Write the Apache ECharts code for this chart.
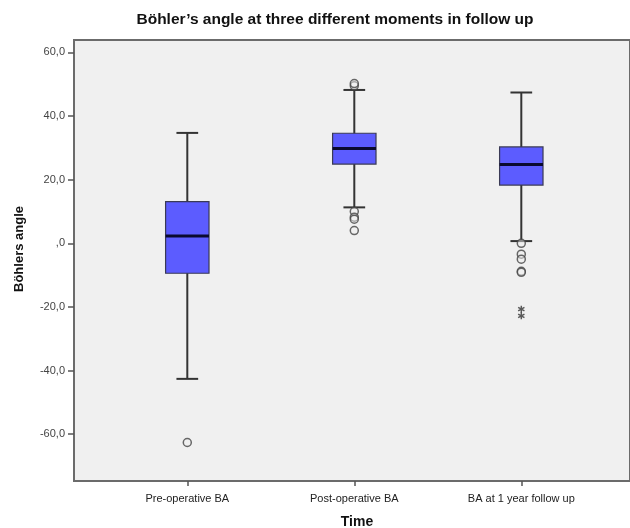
<!DOCTYPE html>
<html>
<head>
<meta charset="utf-8">
<script src="https://cdn.jsdelivr.net/npm/echarts@6/dist/echarts.min.js"></script>
<style>
html,body{margin:0;padding:0;background:#fff;}
#chart{width:630px;height:528px;}
</style>
</head>
<body>
<div id="chart"></div>
<script>
const categories = ['Pre-operative BA', 'Post-operative BA', 'BA at 1 year follow up'];
const whiskerLow = [-42.6, 11.3, 0.7];
const q1 = [-9.4, 24.9, 18.3];
const median = [2.3, 29.8, 24.8];
const q3 = [13.1, 34.6, 30.3];
const whiskerHigh = [34.7, 48.2, 47.4];
const outliers = [[0, -62.6], [1, 49.5], [1, 50.2], [1, 10.0], [1, 8.2], [1, 7.6], [1, 4.0],
                  [2, 0.0], [2, -3.4], [2, -5.0], [2, -8.8], [2, -9.1]];
const extremes = [[2, -20.7], [2, -22.8]];
const yTicks = [-60, -40, -20, 0, 20, 40, 60];
const yMin = -74.7, yMax = 63.9;

const titleText = 'Böhler’s angle at three different moments in follow up';
const yName = 'Böhlers angle';
const xName = 'Time';

const FONT = '"Liberation Sans", Arial, Helvetica, sans-serif';
const asterisk = 'path://M-1,-5L1,-5L1,5L-1,5Z' +
  'M-4.83,-1.63L-3.83,-3.37L4.83,1.63L3.83,3.37Z' +
  'M3.83,-3.37L4.83,-1.63L-3.83,3.37L-4.83,1.63Z';

const boxData = categories.map((c, i) => [i, whiskerLow[i], q1[i], median[i], q3[i], whiskerHigh[i]]);

function fmt(v) {
  if (v === 0) return ',0';
  return v.toFixed(1).replace('.', ',');
}

const chart = echarts.init(document.getElementById('chart'), null, {renderer: 'canvas'});
chart.setOption({
  animation: false,
  backgroundColor: '#ffffff',
  grid: [
    {left: 74, top: 40, width: 564, bottom: 47, show: true, backgroundColor: '#f0f0f0',
     borderColor: '#6b6b6b', borderWidth: 2},
    {left: 103.8, top: 40, width: 501, bottom: 47}
  ],
  xAxis: [
    {gridIndex: 0, type: 'value', min: 0, max: 1, show: false},
    {gridIndex: 1, type: 'category', data: categories, position: 'bottom',
     axisLine: {show: false, onZero: false},
     axisTick: {show: true, alignWithLabel: true, length: 5, lineStyle: {color: '#555', width: 1.5}},
     axisLabel: {margin: 12, fontSize: 11, color: '#222', fontFamily: FONT},
     splitLine: {show: false}}
  ],
  yAxis: [
    {gridIndex: 0, type: 'value', min: yMin, max: yMax,
     axisLine: {show: false, onZero: false},
     axisTick: {show: true, length: 6, customValues: yTicks, lineStyle: {color: '#555', width: 1.5}},
     axisLabel: {show: true, customValues: yTicks, formatter: fmt, margin: 9, fontSize: 11,
                 color: '#444', fontFamily: FONT},
     splitLine: {show: false}},
    {gridIndex: 1, type: 'value', min: yMin, max: yMax, show: false, splitLine: {show: false},
     axisLine: {onZero: false}}
  ],
  graphic: [
    {type: 'text', x: 335, y: 20, style: {text: titleText, font: 'bold 15.5px ' + FONT, fill: '#111',
      textAlign: 'center', textVerticalAlign: 'middle'}},
    {type: 'text', x: 19, y: 249, rotation: Math.PI / 2, style: {text: yName, font: 'bold 13px ' + FONT,
      fill: '#111', textAlign: 'center', textVerticalAlign: 'middle'}},
    {type: 'text', x: 357, y: 522, style: {text: xName, font: 'bold 14px ' + FONT, fill: '#111',
      textAlign: 'center', textVerticalAlign: 'middle'}}
  ],
  series: [
    {
      type: 'custom', xAxisIndex: 1, yAxisIndex: 1, data: boxData, z: 2,
      renderItem: function (params, api) {
        const i = api.value(0);
        const pLow = api.coord([i, api.value(1)]);
        const pQ1 = api.coord([i, api.value(2)]);
        const pMed = api.coord([i, api.value(3)]);
        const pQ3 = api.coord([i, api.value(4)]);
        const pHigh = api.coord([i, api.value(5)]);
        const bw = api.size([1, 0])[0] * 0.26;
        const cw = bw * 0.5;
        const x = pMed[0];
        const wl = {stroke: '#333', lineWidth: 2};
        return {
          type: 'group',
          children: [
            {type: 'line', shape: {x1: x, y1: pHigh[1], x2: x, y2: pLow[1]}, style: wl},
            {type: 'line', shape: {x1: x - cw / 2, y1: pHigh[1], x2: x + cw / 2, y2: pHigh[1]}, style: wl},
            {type: 'line', shape: {x1: x - cw / 2, y1: pLow[1], x2: x + cw / 2, y2: pLow[1]}, style: wl},
            {type: 'rect', shape: {x: x - bw / 2, y: pQ3[1], width: bw, height: pQ1[1] - pQ3[1]},
             style: {fill: '#5c5cff', stroke: '#3a3a55', lineWidth: 1.2}},
            {type: 'line', shape: {x1: x - bw / 2, y1: pMed[1], x2: x + bw / 2, y2: pMed[1]},
             style: {stroke: '#0a0a30', lineWidth: 3}}
          ]
        };
      }
    },
    {
      type: 'scatter', xAxisIndex: 1, yAxisIndex: 1, data: outliers, z: 3,
      symbol: 'circle', symbolSize: 8,
      itemStyle: {color: 'rgba(240,240,240,0.6)', borderColor: '#444', borderWidth: 1.5}
    },
    {
      type: 'scatter', xAxisIndex: 1, yAxisIndex: 1, data: extremes, z: 3,
      symbol: asterisk, symbolSize: 7,
      itemStyle: {color: '#333'}
    }
  ]
});
</script>
</body>
</html>
